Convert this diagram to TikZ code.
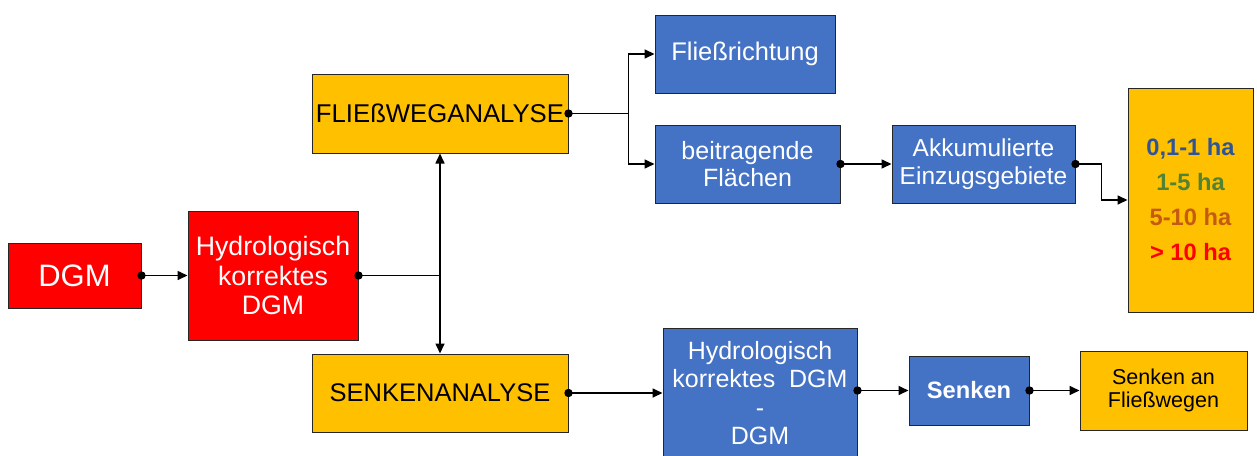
\documentclass[tikz,border=0pt]{standalone}
\usepackage{fontspec}
\setmainfont{Liberation Sans}
\usetikzlibrary{arrows.meta,calc}
\definecolor{boxred}{HTML}{FF0000}
\definecolor{boxorange}{HTML}{FFC000}
\definecolor{boxblue}{HTML}{4472C4}
\definecolor{txtblue}{HTML}{2F5597}
\definecolor{txtgreen}{HTML}{548235}
\definecolor{txtbrown}{HTML}{C55A11}
\tikzset{
  box/.style={draw=black!85, line width=1pt, inner sep=2pt, align=center},
  redbox/.style={box, fill=boxred, text=white},
  orbox/.style={box, fill=boxorange, text=black},
  bluebox/.style={box, fill=boxblue, text=white},
  conn/.style={line width=1.6pt, draw=black},
  arr/.style={conn, -{Triangle[length=10pt,width=9pt]}},
}
\newcommand{\startdot}[1]{\fill[black] (#1) circle (4.2pt);}
\begin{document}
\begin{tikzpicture}[x=1pt,y=-1pt]
\useasboundingbox (0,0) rectangle (1257,455);

% left column
\node[redbox, minimum width=133pt, minimum height=65pt,
      font=\fontsize{31}{34}\selectfont] (dgm) at (74.5,275.5) {DGM};
\node[redbox, minimum width=170pt, minimum height=129pt,
      font=\fontsize{26.7}{29.5}\selectfont] (hkd) at (273,275.5) {Hydrologisch\\korrektes\\DGM};

% analysis boxes
\node[orbox, minimum width=256pt, minimum height=79pt,
      font=\fontsize{25.7}{28}\selectfont] (flw) at (440,113.5) {FLIEßWEGANALYSE};
\node[orbox, minimum width=256pt, minimum height=78pt,
      font=\fontsize{25.5}{28}\selectfont] (senk) at (440,393) {SENKENANALYSE};

% flow path branch
\node[bluebox, minimum width=180pt, minimum height=78pt,
      font=\fontsize{25.5}{27}\selectfont] (fr) at (745,54) {Fließrichtung};
\node[bluebox, minimum width=185pt, minimum height=78pt,
      font=\fontsize{25}{27}\selectfont] (bf) at (747.5,164) {beitragende\\Flächen};
\node[bluebox, minimum width=183pt, minimum height=78pt,
      font=\fontsize{24.5}{28}\selectfont] (akk) at (983.5,164) {Akkumulierte\\Einzugsgebiete};
\node[orbox, minimum width=125pt, minimum height=224pt,
      font=\bfseries\fontsize{23.7}{35}\selectfont] (leg) at (1190.5,200)
  {\textcolor{txtblue}{0,1-1 ha}\\\textcolor{txtgreen}{1-5 ha}\\
   \textcolor{txtbrown}{5-10 ha}\\\textcolor{boxred}{> 10 ha}};

% sink branch
\node[bluebox, minimum width=194pt, minimum height=130pt,
      font=\fontsize{25}{28.5}\selectfont] (diff) at (760,393)
  {Hydrologisch\\korrektes\ \ DGM\\-\\DGM};
\node[bluebox, minimum width=120pt, minimum height=69pt,
      font=\bfseries\fontsize{23.7}{27}\selectfont] (senken) at (969,390.5) {Senken};
\node[orbox, minimum width=167pt, minimum height=79pt,
      font=\fontsize{21.5}{23.5}\selectfont] (sfw) at (1163.5,390.5) {Senken an\\Fließwegen};

% junction points
\coordinate (j1) at (hkd.east -| flw.south);
\coordinate (j2) at ($(flw.east)+(60,0)$);
\coordinate (j3) at ($(akk.east)+(26,0)$);

% connectors
\draw[arr] (dgm.east) -- (hkd.west |- dgm.east);
\draw[conn] (hkd.east) -- (j1);
\draw[arr] (j1) -- (flw.south);
\draw[arr] (j1) -- (senk.north);
\draw[conn] (flw.east) -- (j2);
\draw[arr] (j2) |- (fr.west);
\draw[arr] (j2) |- (bf.west);
\draw[arr] (bf.east) -- (akk.west);
\draw[arr] (akk.east) -- (j3) |- (leg.west);
\draw[arr] (senk.east) -- (senk.east -| diff.west);
\draw[arr] (diff.east |- senken.west) -- (senken.west);
\draw[arr] (senken.east) -- (sfw.west);

% connection dots
\startdot{dgm.east}
\startdot{hkd.east}
\startdot{flw.east}
\startdot{bf.east}
\startdot{akk.east}
\startdot{senk.east}
\startdot{diff.east |- senken.west}
\startdot{senken.east}
\end{tikzpicture}
\end{document}
